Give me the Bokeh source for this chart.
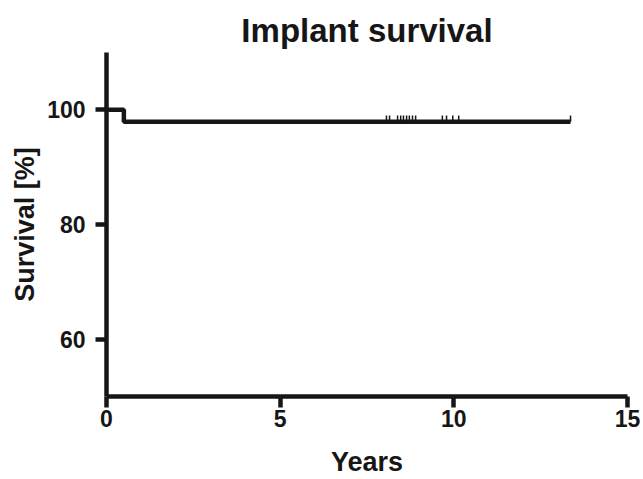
from bokeh.plotting import figure
from bokeh.models import Range1d, FixedTicker, Title
from bokeh.embed import file_html
from bokeh.resources import INLINE

# Kaplan-Meier data
step_times = [0.0, 0.5, 13.36]
step_survival = [100.0, 97.9, 97.9]
censor_times = [8.06, 8.15, 8.38, 8.47, 8.55, 8.64, 8.72, 8.81, 8.90,
                9.67, 9.79, 9.97, 10.14, 13.36]
censor_survival = [97.9] * len(censor_times)
x_ticks = [0, 5, 10, 15]
y_ticks = [60, 80, 100]

FONT = "Liberation Sans"
INK = "#161616"
TICK_H = 1.1  # censor tick height in % units

p = figure(width=643, height=479, output_backend="svg", toolbar_location=None,
           x_range=Range1d(0, 15), y_range=Range1d(50, 110),
           min_border_left=106, min_border_right=16, min_border_top=52,
           min_border_bottom=83)
p.title = Title(text="Implant survival", align="center",
                text_font=FONT, text_font_size="33px", text_font_style="bold",
                text_color=INK, offset=0, standoff=8)
p.outline_line_color = None
p.grid.visible = False
p.background_fill_color = "white"
p.border_fill_color = "white"

for ax in (p.xaxis, p.yaxis):
    ax.axis_line_width = 4.5
    ax.axis_line_color = INK
    ax.major_tick_line_width = 4.5
    ax.major_tick_line_color = INK
    ax.major_tick_in = 0
    ax.minor_tick_line_color = None
    ax.major_label_text_font = FONT
    ax.major_label_text_font_size = "23px"
    ax.major_label_text_font_style = "bold"
    ax.major_label_text_color = INK
    ax.axis_label_text_font = FONT
    ax.axis_label_text_font_size = "27px"
    ax.axis_label_text_font_style = "bold"
    ax.axis_label_text_color = INK

p.xaxis.ticker = FixedTicker(ticks=x_ticks)
p.yaxis.ticker = FixedTicker(ticks=y_ticks)
p.xaxis.major_tick_out = 11
p.yaxis.major_tick_out = 11
p.xaxis.major_label_standoff = 2
p.yaxis.major_label_standoff = 10
p.xaxis.axis_label = "Years"
p.yaxis.axis_label = "Survival [%]"
p.xaxis.axis_label_standoff = 17
p.yaxis.axis_label_standoff = 4

p.step(step_times, step_survival, mode="after", line_width=4.5, line_color=INK)
p.segment(x0=censor_times, y0=censor_survival, x1=censor_times,
          y1=[s + TICK_H for s in censor_survival], line_width=1.5, line_color=INK)

open("out.html", "w").write(file_html(p, INLINE))
